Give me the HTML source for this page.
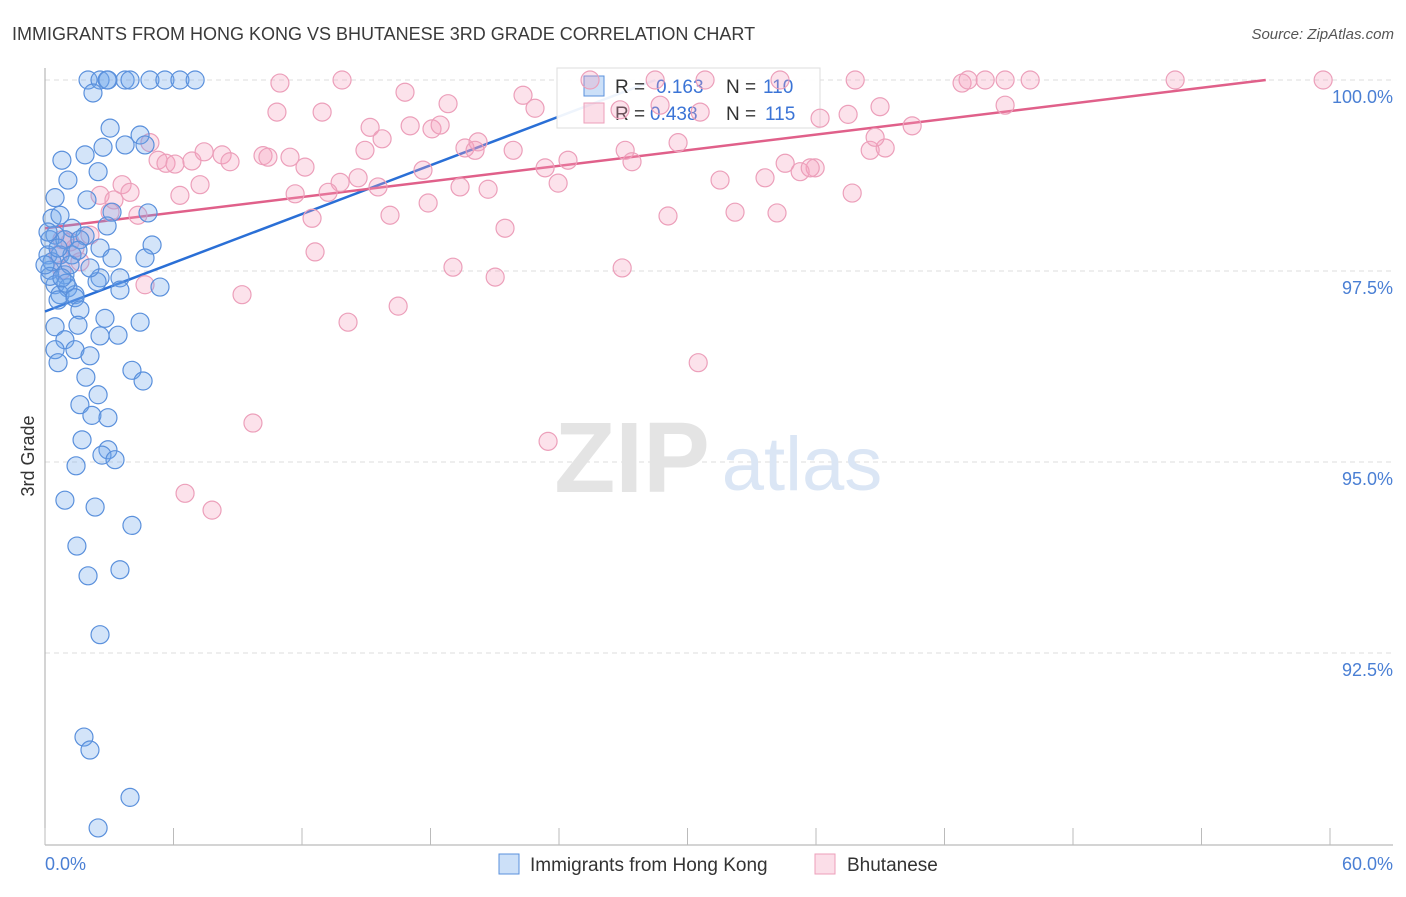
<!DOCTYPE html>
<html><head><meta charset="utf-8"><style>
body{margin:0;background:#fff;font-family:"Liberation Sans",sans-serif;}
svg text{font-family:"Liberation Sans",sans-serif;}
</style></head><body>
<svg id="c" width="1406" height="892" xmlns="http://www.w3.org/2000/svg"></svg>
<script>
const blueX=[2.01,2.57,2.94,3.74,3.97,4.90,5.60,6.30,7.01,2.90,2.24,3.04,4.44,2.71,3.74,0.79,1.87,4.67,1.07,2.48,0.47,1.96,3.13,4.81,0.33,0.70,1.26,2.90,0.47,1.87,0.23,0.93,1.63,5.00,2.57,0.14,0.70,1.26,3.13,4.67,0.23,0.93,3.50,2.57,2.43,0.47,1.07,5.37,0.70,1.40,3.50,0.61,1.40,1.63,4.44,2.80,0.47,1.54,0.93,2.57,3.41,0.47,1.40,2.10,0.61,4.06,1.91,4.58,2.48,1.63,2.19,2.94,1.73,2.94,2.66,3.27,1.45,0.93,2.34,4.06,1.49,3.50,2.01,2.57,1.82,2.10,3.97,2.48,0.14,0.33,0.61,1.17,2.10,0.98,0.23,0.79,0,1.54];
const blueY=[100,100,100,100,100,100,100,100,100,100,99.83,99.37,99.28,99.12,99.15,98.95,99.02,99.15,98.69,98.80,98.46,98.43,98.27,98.26,98.19,98.23,98.06,98.09,97.97,97.96,97.91,97.91,97.91,97.84,97.80,97.71,97.71,97.71,97.67,97.67,97.51,97.45,97.41,97.41,97.36,97.32,97.28,97.29,97.19,97.19,97.25,97.12,97.15,96.99,96.83,96.88,96.77,96.79,96.60,96.65,96.66,96.47,96.47,96.39,96.30,96.20,96.11,96.06,95.88,95.75,95.61,95.58,95.29,95.16,95.09,95.03,94.95,94.50,94.41,94.17,93.90,93.59,93.51,92.74,91.40,91.23,90.61,90.21,98.01,97.62,97.80,97.58,97.54,97.34,97.43,97.41,97.58,97.77];
const pinkX=[25.45,28.49,30.82,34.32,37.83,42.82,43.10,43.90,44.83,46.00,52.77,59.68,13.87,10.97,16.81,22.32,22.88,18.82,10.83,12.94,26.85,28.72,30.59,36.19,37.50,38.99,44.83,15.18,17.05,18.07,18.45,15.74,14.94,19.61,20.22,20.08,21.86,27.09,29.56,38.53,39.23,38.76,40.49,4.90,5.28,5.65,6.07,6.86,7.43,8.27,8.64,10.18,10.41,11.44,12.14,24.42,27.41,35.96,23.35,17.65,34.56,35.26,35.73,33.62,31.52,14.62,13.78,15.55,19.38,20.69,23.96,11.68,13.22,7.24,6.30,3.60,3.97,2.57,3.22,3.04,4.34,12.47,16.11,17.89,21.48,29.09,32.22,34.18,37.69,2.10,1.17,0.61,0.79,1.63,12.61,19.05,21.02,26.95,4.67,9.20,16.49,14.15,30.50,9.71,23.49,6.54,7.80,0.79,1.40];
const pinkY=[100,100,100,100,100,99.96,100,100,100,100,100,100,100,99.96,99.84,99.80,99.63,99.69,99.58,99.58,99.61,99.67,99.58,99.50,99.55,99.65,99.67,99.38,99.40,99.36,99.41,99.23,99.08,99.11,99.19,99.08,99.08,99.08,99.18,99.08,99.11,99.25,99.40,99.18,98.95,98.91,98.90,98.94,99.06,99.02,98.93,99.01,98.99,98.99,98.86,98.95,98.93,98.85,98.85,98.82,98.91,98.80,98.85,98.72,98.69,98.72,98.66,98.60,98.60,98.57,98.65,98.51,98.53,98.63,98.49,98.63,98.53,98.49,98.43,98.27,98.23,98.19,98.23,98.39,98.06,98.22,98.27,98.26,98.52,97.97,97.88,97.71,97.51,97.62,97.75,97.55,97.42,97.54,97.32,97.19,97.04,96.83,96.30,95.51,95.27,94.59,94.37,97.91,97.80];
const blueTrend=[[0,96.97],[28.5,100]];
const pinkTrend=[[0,98.06],[57.0,100]];
const yTicks=[100,97.5,95,92.5];
const xTicks=[0,6,12,18,24,30,36,42,48,54,60];

const NS="http://www.w3.org/2000/svg";
const svg=document.getElementById('c');
const X=v=>45+v/60*1285;
const Y=v=>80+(100-v)/2.5*191;
function el(t,a,p){const e=document.createElementNS(NS,t);for(const k in a)e.setAttribute(k,a[k]);(p||svg).appendChild(e);return e;}
function tx(s,a){const e=el('text',a);e.textContent=s;return e;}

let t=tx('IMMIGRANTS FROM HONG KONG VS BHUTANESE 3RD GRADE CORRELATION CHART',{x:12,y:40,'font-size':18,fill:'#3a3a3a'});

t=tx('Source: ZipAtlas.com',{x:1394,y:39,'font-size':15,fill:'#555','text-anchor':'end','font-style':'italic'});


yTicks.forEach(v=>{
 const g=el('line',{x1:45,x2:1393,y1:Y(v),y2:Y(v),stroke:'#ddd','stroke-dasharray':'5,4'});
 
 const l=tx(v.toFixed(1)+'%',{x:1393,y:Y(v)+23,'font-size':18,fill:'#4a7fd4','text-anchor':'end'});
 
});
let a=el('line',{x1:45,x2:45,y1:68,y2:845,stroke:'#aaa'});
a=el('line',{x1:45,x2:1393,y1:845,y2:845,stroke:'#aaa'});
xTicks.forEach(v=>{const k=el('line',{x1:X(v),x2:X(v),y1:828,y2:845,stroke:'#bbb'});});
t=tx('0.0%',{x:45,y:870,'font-size':18,fill:'#4a7fd4'});
t=tx('60.0%',{x:1393,y:870,'font-size':18,fill:'#4a7fd4','text-anchor':'end'});
t=tx('3rd Grade',{x:34,y:456,'font-size':18,fill:'#333','text-anchor':'middle',transform:'rotate(-90 34 456)'});


t=tx('ZIP',{x:632,y:492,'font-size':100,fill:'#e4e4e4','text-anchor':'middle','font-family':'Liberation Serif','font-weight':'bold'});

t=tx('atlas',{x:802,y:490,'font-size':76,fill:'#dbe6f5','text-anchor':'middle'});


let l=el('line',{x1:X(blueTrend[0][0]),y1:Y(blueTrend[0][1]),x2:X(blueTrend[1][0]),y2:Y(blueTrend[1][1]),stroke:'#2a6fd6','stroke-width':2.5});

l=el('line',{x1:X(pinkTrend[0][0]),y1:Y(pinkTrend[0][1]),x2:X(pinkTrend[1][0]),y2:Y(pinkTrend[1][1]),stroke:'#e0608a','stroke-width':2.5});


const lg=el('g',{});
el('rect',{x:557,y:68,width:263,height:60,fill:'rgba(255,255,255,0.92)',stroke:'#ddd'},lg);
el('rect',{x:584,y:76,width:20,height:20,fill:'rgba(110,165,235,0.35)',stroke:'#5a90dc'},lg);
el('rect',{x:584,y:103,width:20,height:20,fill:'rgba(244,160,190,0.35)',stroke:'#ec9fba'},lg);
function lt(s,x,y,c){const e=el('text',{x:x,y:y,'font-size':19,fill:c},lg);e.textContent=s;}
lt('R =',615,93,'#333');lt('0.163',656,93,'#3b74d6');lt('N =',726,93,'#333');lt('110',763,93,'#3b74d6');
lt('R =',615,120,'#333');lt('0.438',650,120,'#3b74d6');lt('N =',726,120,'#333');lt('115',765,120,'#3b74d6');

function pts(xs,ys,fill,stroke,name){xs.forEach((x,i)=>{const c=el('circle',{cx:X(x),cy:Y(ys[i]),r:9,fill:fill,stroke:stroke,'stroke-width':1.2});
 });}
pts(pinkX,pinkY,'rgba(244,160,190,0.3)','#ec9fba','bhutanese-point');
pts(blueX,blueY,'rgba(110,165,235,0.3)','#5a90dc','hong-kong-point');

const bl=el('g',{});
el('rect',{x:499,y:854,width:20,height:20,fill:'rgba(110,165,235,0.35)',stroke:'#5a90dc'},bl);
let b=el('text',{x:530,y:871,'font-size':19,fill:'#333'},bl);b.textContent='Immigrants from Hong Kong';
el('rect',{x:815,y:854,width:20,height:20,fill:'rgba(244,160,190,0.35)',stroke:'#ec9fba'},bl);
b=el('text',{x:847,y:871,'font-size':19,fill:'#333'},bl);b.textContent='Bhutanese';
</script>
</body></html>
